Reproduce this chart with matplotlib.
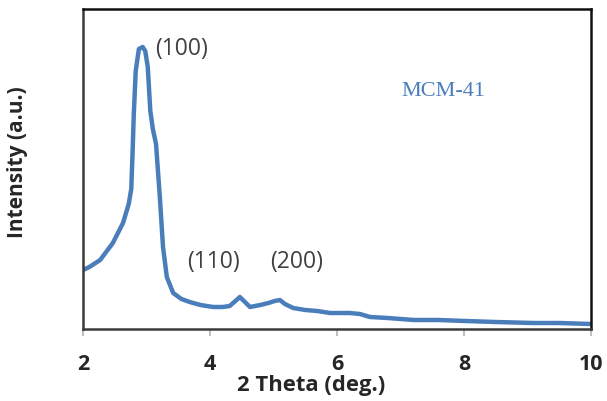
import numpy as np
import matplotlib
matplotlib.use("Agg")
import matplotlib.pyplot as plt

# XRD pattern of MCM-41
two_theta = [2.0, 2.1, 2.27, 2.47, 2.63, 2.72, 2.76, 2.78, 2.80, 2.83, 2.88, 2.94, 2.98, 3.02,
             3.06, 3.10, 3.15, 3.21, 3.26, 3.32, 3.42, 3.55, 3.68, 3.85, 4.05, 4.2, 4.31,
             4.40, 4.47, 4.55, 4.63, 4.79, 4.92, 5.02, 5.10, 5.18, 5.31, 5.5, 5.69, 5.89,
             6.2, 6.36, 6.52, 6.8, 7.21, 7.6, 8.02, 8.5, 9.09, 9.5, 10.0]
intensity = [59, 62, 69, 86, 106, 125, 140, 175, 215, 258, 280, 282, 278, 262,
             218, 200, 185, 132, 82, 52, 36, 30, 27, 24, 22, 22, 23,
             28, 32, 27, 22, 24, 26, 28, 29, 25, 21, 19, 18, 16,
             16, 15, 12, 11, 9, 9, 8, 7, 6, 6, 5]

xticks = [2, 4, 6, 8, 10]
peaks = ["(100)", "(110)", "(200)"]
peak_pos = [(3.13, 280), (3.64, 67), (4.94, 67)]
sample = "MCM-41"

FONT = "Open Sans"

fig = plt.figure(figsize=(6.07, 4.01), dpi=100)
ax = fig.add_axes([83/607, 1-329/401, 508/607, 320/401])

ax.plot(two_theta, intensity, color="#4a7ebb", lw=3.2, solid_capstyle="round")

ax.set_xlim(2, 10)
ax.set_ylim(0, 320)
ax.set_yticks([])
ax.set_xticks(xticks)
ax.set_xticklabels([str(t) for t in xticks], fontfamily=FONT, fontweight="bold",
                   fontsize=15.5, color="#262626")
ax.tick_params(axis="x", direction="out", length=5, width=1.5, color="#bfbfbf", pad=13)

for s in ax.spines.values():
    s.set_color("#3a3a3a")
    s.set_linewidth(1.8)
ax.spines["right"].set_color("#111111")
ax.spines["top"].set_color("#111111")

for lab, (px, py) in zip(peaks, peak_pos):
    ax.text(px, py, lab, fontfamily=FONT, fontsize=16.5, color="#404040",
            ha="left", va="center")

ax.text(7.02, 237, sample, fontfamily="Liberation Serif", fontsize=16,
        color="#4a7ebb", ha="left", va="center")

fig.text(311/607, 1-385/401, "2 Theta (deg.)", fontfamily=FONT, fontweight="bold",
         fontsize=15.8, color="#262626", ha="center", va="center")
fig.text(18/607, 1-162/401, "Intensity (a.u.)", fontfamily=FONT, fontweight="bold",
         fontsize=15, color="#262626", ha="center", va="center", rotation=90)

fig.savefig("out.png", dpi=100)
